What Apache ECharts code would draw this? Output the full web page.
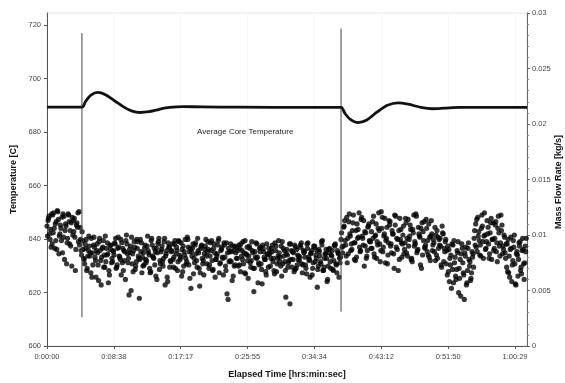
<!DOCTYPE html>
<html>
<head>
<meta charset="utf-8">
<script src="https://cdn.jsdelivr.net/npm/echarts@6/dist/echarts.min.js"></script>
<style>
  html, body { margin: 0; padding: 0; background: #fff; }
  #chart { width: 565px; height: 383px; }
</style>
</head>
<body>
<div id="chart"></div>
<script>
// x axis: elapsed seconds, ticks every 1:00:29 / 7
const xMax = 3722;
const xStep = 3629 / 7;
const xTickLabels = ['0:00:00', '0:08:38', '0:17:17', '0:25:55', '0:34:34', '0:43:12', '0:51:50', '1:00:29'];

// average core temperature [C]
const tempTimes = [0, 271, 300, 340, 395, 450, 520, 600, 660, 721, 790, 870, 950, 1055, 1200, 1500, 2000, 2280,
  2310, 2350, 2412, 2480, 2560, 2640, 2722, 2800, 2900, 2986, 3080, 3203, 3400, 3722];
const tempValues = [689.3, 689.3, 691.5, 693.8, 694.8, 694, 691.8, 689.2, 687.8, 687.3, 687.6, 688.5, 689.2, 689.5, 689.4, 689.3, 689.2, 689.2,
  687, 684.8, 683.5, 684.5, 687.5, 690, 690.9, 690.4, 689.2, 688.7, 688.9, 689.2, 689.2, 689.2];

// the two step changes (vertical marker lines), mass flow axis
const eventTimes = [271, 2280];
const eventTop = [0.0282, 0.0286];
const eventBottom = [0.0026, 0.0031];

// mass flow samples in 1e-4 kg/s, three interleaved runs, 12 s apart each
const scatterStep = 12;
const runOffsets = [0, 4, 8];
const flowRunA = [
  108,115,96,119,102,88,112,121,99,106,84,117,110,93,118,104,72,113,98,109,120,91,86,
  95,78,88,70,99,84,62,91,80,86,73,97,55,89,82,76,93,68,87,79,
  85,92,71,98,80,64,88,77,95,83,46,90,74,86,69,96,81,78,93,72,
  88,75,99,82,67,91,79,85,60,94,77,87,72,97,83,58,89,76,92,80,
  70,86,95,78,63,90,82,74,96,85,52,88,79,93,71,84,66,91,77,87,
  81,94,73,86,68,92,78,83,97,75,89,64,80,93,42,85,76,90,72,84,
  79,91,67,86,74,95,82,61,88,77,84,70,93,80,73,89,56,85,78,92,
  71,83,88,76,65,90,79,84,72,94,81,68,87,75,38,86,78,91,70,82,
  77,89,66,84,73,92,80,62,86,75,90,79,69,85,74,95,71,83,58,87,
  76,81,68,90,73,84,79,
  96,84,108,91,75,112,99,87,118,93,80,105,89,114,97,72,102,86,110,94,
  88,117,99,79,106,92,121,85,101,95,74,113,90,104,83,109,97,68,115,93,
  100,87,111,81,96,105,76,118,92,84,107,98,70,103,89,114,95,80,99,86,
  93,77,104,88,97,71,101,85,
  74,90,58,82,69,95,63,86,48,78,92,66,84,55,88,72,61,80,
  97,110,85,103,91,118,79,100,94,107,83,115,96,88,112,76,102,93,109,87,
  84,71,96,62,88,77,100,55,82,93,68,86,74,90
];
const flowRunB = [
  99,117,105,92,120,110,87,114,101,95,119,78,108,97,112,90,116,103,68,111,94,107,82,
  87,74,96,81,90,66,84,98,77,92,59,86,80,95,71,88,83,64,91,76,
  82,97,73,89,78,93,68,85,100,75,87,50,83,94,72,88,79,96,66,84,
  91,77,86,70,95,81,88,63,84,97,74,90,79,55,86,93,71,85,78,92,
  83,68,94,80,87,72,96,76,89,61,85,92,75,83,97,70,88,79,64,90,
  74,87,81,95,69,84,78,91,66,86,80,93,72,47,88,77,85,63,90,79,
  86,73,92,78,84,65,89,81,75,94,70,85,79,57,88,74,91,80,67,83,
  88,72,85,79,93,67,81,76,90,74,86,44,82,77,92,71,84,69,87,78,
  80,93,73,85,70,88,77,83,64,90,76,86,72,81,94,68,79,87,60,84,
  70,86,77,92,66,83,75,
  102,90,113,81,97,119,86,104,93,77,110,98,85,116,91,103,79,107,95,88,
  112,83,100,94,120,76,106,89,115,97,82,109,92,101,70,117,87,104,96,80,
  108,93,84,114,99,78,105,90,119,86,101,73,111,95,88,106,82,98,113,91,
  85,100,79,96,90,108,76,94,
  86,67,79,52,91,75,60,84,70,45,88,64,81,57,93,76,66,83,
  104,89,116,95,81,108,99,87,113,92,102,78,111,97,85,106,90,118,83,100,
  79,92,66,87,58,95,74,83,63,90,71,97,60,85
];
const flowRunC = [
  113,101,89,118,106,95,122,83,109,116,98,104,74,119,92,111,100,115,87,107,121,96,103,
  79,92,68,86,81,97,73,89,62,84,94,77,88,71,99,82,57,91,75,86,
  93,70,88,81,96,75,86,60,92,79,84,98,67,89,76,94,43,85,80,73,
  78,90,84,66,97,80,73,88,92,69,85,76,94,81,62,89,77,86,71,95,
  89,76,82,93,67,85,79,98,73,88,81,65,91,77,86,54,90,74,83,96,
  85,70,93,77,88,62,81,95,74,87,79,91,68,84,76,92,59,86,73,89,
  72,88,81,94,66,83,77,90,71,86,49,80,92,75,85,69,88,78,64,82,
  84,79,91,68,86,74,95,80,63,88,76,83,71,92,78,85,67,89,73,81,
  91,74,86,80,65,93,78,84,70,89,82,53,87,76,91,68,83,79,72,88,
  82,69,91,74,86,62,80,
  89,107,95,116,83,101,92,111,78,104,97,120,86,99,113,90,81,108,94,103,
  97,80,110,91,104,86,116,99,75,107,93,112,84,101,118,89,96,78,105,92,
  83,115,97,90,109,79,102,94,117,87,99,106,82,112,91,85,110,77,101,96,
  107,82,98,91,73,102,88,96,
  64,87,73,92,57,80,69,94,61,83,75,42,89,68,78,59,85,71,
  91,114,99,82,106,94,120,88,101,79,111,96,86,109,93,117,81,104,90,98,
  92,67,81,98,73,89,56,85,78,94,65,87,75,97
];

const chart = echarts.init(document.getElementById('chart'), null, { renderer: 'canvas' });

const font = 'Liberation Sans, Arial, sans-serif';
const flowRuns = [flowRunA, flowRunB, flowRunC];

const scatterSeries = flowRuns.map(function (run, k) {
  return {
    type: 'scatter',
    yAxisIndex: 1,
    symbolSize: 5.2,
    itemStyle: { color: '#050505' },
    silent: true,
    z: 2,
    data: run.map(function (v, i) {
      return [i * scatterStep + runOffsets[k], v / 10000];
    })
  };
});

const eventSeries = eventTimes.map(function (t, i) {
  return {
    type: 'line',
    yAxisIndex: 1,
    symbol: 'none',
    lineStyle: { color: '#444', width: 1 },
    z: 3,
    data: [[t, eventTop[i]], [t, eventBottom[i]]]
  };
});

const option = {
  animation: false,
  grid: {
    left: 47, right: 38, top: 13, bottom: 37,
    outerBoundsMode: 'none',
    containLabel: false,
    show: true, borderColor: '#e4e4e4', borderWidth: 1
  },
  xAxis: {
    type: 'value',
    min: 0,
    max: xMax,
    interval: xStep,
    name: 'Elapsed Time [hrs:min:sec]',
    nameLocation: 'middle',
    nameGap: 24,
    nameTextStyle: { fontFamily: font, fontWeight: 'bold', fontSize: 9, color: '#111' },
    axisLine: { lineStyle: { color: '#555' } },
    axisTick: { length: 3, lineStyle: { color: '#555' } },
    axisLabel: {
      showMaxLabel: false,
      fontFamily: font, fontSize: 7.5, color: '#444', margin: 7,
      formatter: function (v) {
        const i = Math.round(v / xStep);
        return Math.abs(v - i * xStep) < 1 ? xTickLabels[i] : '';
      }
    },
    splitLine: { show: true, lineStyle: { color: '#f0f0f0', type: 'dotted' } }
  },
  yAxis: [
    {
      type: 'value',
      min: 600,
      max: 724.5,
      interval: 20,
      name: 'Temperature [C]',
      nameLocation: 'middle',
      nameGap: 26,
      nameTextStyle: { fontFamily: font, fontWeight: 'bold', fontSize: 9, color: '#111' },
      axisLine: { show: true, lineStyle: { color: '#555' } },
      axisTick: { show: true, length: 3, lineStyle: { color: '#555' } },
      axisLabel: { showMaxLabel: false, fontFamily: font, fontSize: 7.5, color: '#444', margin: 6 },
      splitLine: { show: false }
    },
    {
      type: 'value',
      min: 0,
      max: 0.03,
      interval: 0.005,
      axisLine: { show: true, lineStyle: { color: '#666' } },
      axisTick: { show: true, length: 3, lineStyle: { color: '#666' } },
      minorTick: { show: true, splitNumber: 5, length: 2, lineStyle: { color: '#888' } },
      axisLabel: { fontFamily: font, fontSize: 7.5, color: '#444', margin: 5 },
      splitLine: { show: false }
    }
  ],
  graphic: [{
    type: 'text',
    left: 197,
    top: 128,
    style: { text: 'Average Core Temperature', font: '8px ' + font, fill: '#222' }
  }, {
    type: 'text',
    x: 559,
    y: 182,
    rotation: Math.PI / 2,
    style: {
      text: 'Mass Flow Rate [kg/s]',
      font: 'bold 9px ' + font,
      fill: '#111',
      align: 'center',
      verticalAlign: 'middle'
    }
  }],
  series: scatterSeries.concat(eventSeries).concat([{
    type: 'line',
    yAxisIndex: 0,
    symbol: 'none',
    smooth: 0.3,
    lineStyle: { color: '#111', width: 2.8 },
    z: 4,
    data: tempTimes.map(function (t, i) { return [t, tempValues[i]]; })
  }])
};

chart.setOption(option);
</script>
</body>
</html>
